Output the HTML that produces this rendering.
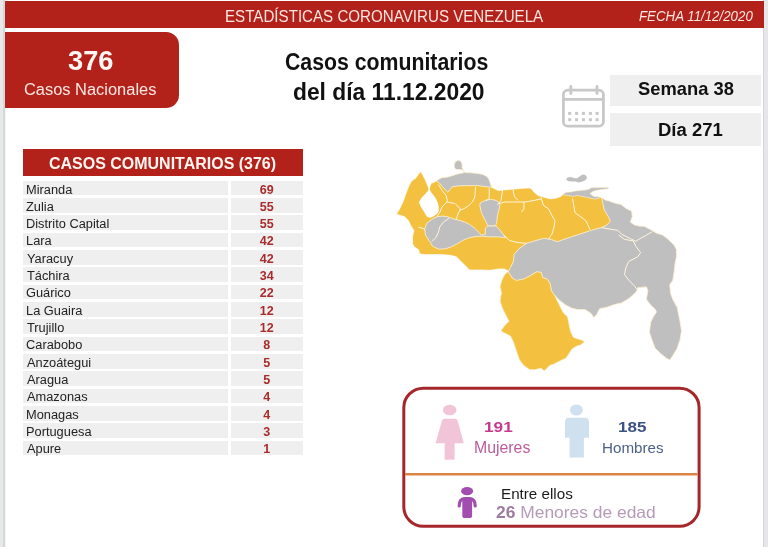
<!DOCTYPE html>
<html><head><meta charset="utf-8"><style>
*{margin:0;padding:0;box-sizing:border-box}
html,body{width:768px;height:547px;overflow:hidden;background:#fff}
body{position:relative;font-family:"Liberation Sans",sans-serif}
.t{position:absolute;white-space:nowrap;transform-origin:0 0}
.a{position:absolute}
.rw{position:absolute;left:22.8px;width:205px;height:14.5px;background:#efefef}
.rn{position:absolute;left:230.5px;width:72.2px;height:14.5px;background:#efefef}
</style></head><body><div id="w" style="position:absolute;left:0;top:0;width:768px;height:547px;overflow:hidden;background:#fff;filter:blur(0.35px)">
<div class="a" style="left:0;top:0;width:3px;height:547px;background:#e7e8ea"></div>
<div class="a" style="left:3px;top:0;width:1.6px;height:547px;background:#d6d7d9"></div>
<div class="a" style="left:4.6px;top:0;width:1.2px;height:547px;background:#f3f3f3"></div>
<div class="a" style="left:763px;top:0;width:1.4px;height:547px;background:#d4d5d7"></div>
<div class="a" style="left:764.4px;top:0;width:3.6px;height:547px;background:#e6e7e9"></div>
<div class="a" style="left:4.5px;top:1px;width:759px;height:27px;background:#b2221a"></div>
<div class="a" style="left:4.5px;top:32.3px;width:174.5px;height:76px;background:#b2221a;border-radius:0 13px 13px 0"></div>
<div class="a" style="left:22.8px;top:149.2px;width:279.8px;height:27.2px;background:#b2221a"></div>
<div class="a" style="left:610.2px;top:74.9px;width:151.1px;height:31.3px;background:#efefef"></div>
<div class="a" style="left:610.2px;top:113.2px;width:151.1px;height:32.5px;background:#efefef"></div>
<div class="rw" style="top:180.80px"></div><div class="rn" style="top:180.80px"></div><div class="rw" style="top:198.13px"></div><div class="rn" style="top:198.13px"></div><div class="rw" style="top:215.46px"></div><div class="rn" style="top:215.46px"></div><div class="rw" style="top:232.79px"></div><div class="rn" style="top:232.79px"></div><div class="rw" style="top:250.12px"></div><div class="rn" style="top:250.12px"></div><div class="rw" style="top:267.45px"></div><div class="rn" style="top:267.45px"></div><div class="rw" style="top:284.78px"></div><div class="rn" style="top:284.78px"></div><div class="rw" style="top:302.11px"></div><div class="rn" style="top:302.11px"></div><div class="rw" style="top:319.44px"></div><div class="rn" style="top:319.44px"></div><div class="rw" style="top:336.77px"></div><div class="rn" style="top:336.77px"></div><div class="rw" style="top:354.10px"></div><div class="rn" style="top:354.10px"></div><div class="rw" style="top:371.43px"></div><div class="rn" style="top:371.43px"></div><div class="rw" style="top:388.76px"></div><div class="rn" style="top:388.76px"></div><div class="rw" style="top:406.09px"></div><div class="rn" style="top:406.09px"></div><div class="rw" style="top:423.42px"></div><div class="rn" style="top:423.42px"></div><div class="rw" style="top:440.75px"></div><div class="rn" style="top:440.75px"></div>
<svg class="a" style="left:0;top:0" width="768" height="547" viewBox="0 0 768 547">
<g fill="none" stroke="#c8c8c8" stroke-width="2.8" stroke-linecap="round">
<rect x="563.4" y="90.2" width="40" height="36" rx="4.5"/>
<line x1="564" y1="99.4" x2="603" y2="99.4"/>
<line x1="570.8" y1="86.5" x2="570.8" y2="93.5"/>
<line x1="597" y1="86.5" x2="597" y2="93.5"/>
</g>
<g fill="#c8c8c8">
<rect x="568.2" y="111.9" width="3" height="3"/><rect x="575.1" y="111.9" width="3" height="3"/><rect x="581.9" y="111.9" width="3" height="3"/><rect x="588.9" y="111.9" width="3" height="3"/><rect x="595.6" y="111.9" width="3" height="3"/><rect x="568.2" y="118.2" width="3" height="3"/><rect x="575.1" y="118.2" width="3" height="3"/><rect x="581.9" y="118.2" width="3" height="3"/><rect x="588.9" y="118.2" width="3" height="3"/><rect x="595.6" y="118.2" width="3" height="3"/>
</g>

<polygon points="420.5,171.4 422.5,174.5 425.2,179.7 427.1,184.3 428.4,187.5 429.8,187.5 430.4,185.3 431.1,183.4 433.5,182.6 436.2,181.0 439.0,179.2 441.7,177.7 448.0,177.0 452.0,175.7 455.9,174.4 459.8,173.4 463.4,172.9 463.6,171.0 462.6,169.8 459.8,169.6 455.9,169.5 454.3,167.2 454.3,164.6 455.2,161.9 457.9,160.3 460.5,160.9 462.1,163.9 462.1,167.8 463.4,169.8 464.6,172.6 471.0,172.8 477.6,173.4 482.9,174.4 486.8,176.4 488.8,179.0 490.1,182.3 490.8,185.0 491.6,187.3 498.2,190.5 503.7,190.0 512.0,189.3 520.2,188.6 528.4,187.9 531.2,188.6 533.9,192.0 538.0,195.5 544.9,197.5 550.4,198.9 555.8,198.2 560.9,196.4 563.7,193.7 566.4,192.3 571.0,191.9 575.5,191.0 579.2,190.5 584.6,190.1 588.3,189.6 591.0,187.8 600.1,187.6 608.3,187.6 608.3,188.8 601.0,189.6 595.6,190.5 591.9,191.9 590.1,193.7 593.8,196.4 598.7,196.8 601.5,197.4 605.6,200.2 609.3,201.0 613.8,202.8 617.5,203.7 620.7,204.3 626.2,208.4 631.6,211.2 632.3,216.6 630.3,222.1 634.4,224.9 639.9,226.2 644.0,226.2 649.5,229.0 656.3,233.1 662.5,235.0 667.3,238.6 669.8,240.9 674.2,245.2 676.4,249.6 676.4,256.9 675.0,264.3 674.2,271.6 672.8,280.3 669.8,284.7 670.6,293.5 672.8,299.4 677.2,307.3 678.6,314.6 680.1,321.9 681.5,330.7 680.1,339.5 677.2,348.3 672.8,355.6 669.8,360.0 666.9,358.5 661.1,354.1 655.2,348.3 652.3,341.0 649.4,332.2 650.8,321.9 653.8,316.1 656.5,312.0 655.0,309.0 650.8,305.2 646.4,299.4 647.9,290.6 646.4,286.9 637.7,287.7 636.2,292.0 628.9,298.5 621.6,302.9 614.3,304.6 606.9,307.3 599.6,308.8 596.7,314.6 593.8,317.6 590.9,313.2 585.1,309.6 577.8,309.6 571.9,308.2 566.1,305.2 560.2,300.9 554.4,295.0 557.3,300.9 560.2,306.7 563.1,312.6 567.5,316.9 569.0,324.3 570.5,331.6 573.4,337.4 577.8,338.9 582.2,340.3 584.4,341.8 580.7,344.7 576.3,346.2 571.9,349.1 569.0,353.5 566.1,357.9 560.2,360.8 554.4,363.8 550.0,365.2 547.1,368.1 544.1,371.1 541.2,368.1 535.3,369.6 529.5,369.6 523.6,365.2 519.3,359.4 516.3,350.6 513.4,341.8 510.5,336.0 504.6,333.0 501.0,330.8 504.6,325.7 509.0,321.3 506.1,315.5 502.4,308.2 500.2,300.9 501.0,295.0 501.7,293.8 500.2,286.4 501.7,280.6 504.6,274.7 508.3,271.0 504.6,268.9 498.8,268.9 490.0,270.3 482.8,270.0 475.5,270.0 469.6,270.0 465.2,265.6 460.8,261.2 456.4,256.8 450.6,255.3 441.8,254.5 433.0,254.5 424.3,254.6 419.9,253.9 418.4,249.5 414.0,246.6 412.6,243.6 412.6,236.3 414.0,230.5 411.1,226.1 408.2,220.2 404.6,216.7 400.5,215.4 396.4,214.0 399.1,209.9 403.2,201.6 406.0,193.4 408.7,186.5 411.5,181.1 415.6,178.3" fill="#f3c13f" stroke="#fff" stroke-width="0.6"/>
<polygon points="436.2,181.0 439.0,179.2 441.7,177.7 448.0,177.0 452.0,175.7 455.9,174.4 459.8,173.4 463.4,172.9 463.6,171.0 462.6,169.8 459.8,169.6 455.9,169.5 454.3,167.2 454.3,164.6 455.2,161.9 457.9,160.3 460.5,160.9 462.1,163.9 462.1,167.8 463.4,169.8 464.6,172.6 471.0,172.8 477.6,173.4 482.9,174.4 486.8,176.4 488.8,179.0 490.1,182.3 490.8,185.0 491.6,187.3 487.5,186.9 482.9,186.3 477.6,185.6 467.7,185.6 457.9,185.9 452.0,186.9 450.0,189.3 447.8,192.2 446.1,190.6 442.3,186.5 439.0,182.6" fill="#bfbfbf" stroke="#fff4d8" stroke-width="0.8"/>
<polygon points="424.8,229.1 426.7,223.2 431.9,219.3 437.1,216.7 442.3,216.1 447.6,216.7 452.8,218.7 458.0,220.0 464.5,221.9 469.7,224.5 474.9,228.4 478.8,232.3 481.4,235.0 485.3,234.3 485.3,228.4 487.9,225.8 495.7,225.8 499.6,229.7 503.5,235.0 506.1,237.6 498.3,236.9 490.5,236.9 482.7,236.3 477.5,236.3 469.7,237.6 463.2,240.2 456.7,244.1 451.5,246.7 446.3,248.6 439.7,249.3 434.5,247.3 431.9,245.4 430.6,242.8 428.0,238.9 425.4,234.9" fill="#bfbfbf" stroke="#fff4d8" stroke-width="0.8"/>
<polygon points="480.1,203.0 485.9,200.0 491.8,199.4 496.6,200.6 500.2,203.5 499.0,209.5 497.5,215.4 496.6,222.6 495.7,225.8 487.9,225.8 486.0,221.9 484.0,218.0 481.4,212.8 479.9,205.9" fill="#bfbfbf" stroke="#fff4d8" stroke-width="0.8"/>
<polygon points="563.7,193.7 566.4,192.3 571.0,191.9 575.5,191.0 579.2,190.5 584.6,190.1 588.3,189.6 591.0,187.8 600.1,187.6 608.3,187.6 608.3,188.8 601.0,189.6 595.6,190.5 591.9,191.9 590.1,193.7 593.8,196.4 598.7,196.8 600.5,197.6 594.7,199.2 591.0,198.3 586.5,197.3 581.9,196.4 577.3,195.5 573.7,196.4 568.2,195.5 563.7,195.0" fill="#bfbfbf" stroke="#fff4d8" stroke-width="0.6"/>
<polygon points="601.5,197.4 605.6,200.2 609.3,201.0 613.8,202.8 617.5,203.7 620.7,204.3 626.2,208.4 631.6,211.2 632.3,216.6 630.3,222.1 634.4,224.9 639.9,226.2 644.0,226.2 649.5,229.0 656.3,233.1 662.5,235.0 667.3,238.6 669.8,240.9 674.2,245.2 676.4,249.6 676.4,256.9 675.0,264.3 674.2,271.6 672.8,280.3 669.8,284.7 670.6,293.5 672.8,299.4 677.2,307.3 678.6,314.6 680.1,321.9 681.5,330.7 680.1,339.5 677.2,348.3 672.8,355.6 669.8,360.0 666.9,358.5 661.1,354.1 655.2,348.3 652.3,341.0 649.4,332.2 650.8,321.9 653.8,316.1 656.5,312.0 655.0,309.0 650.8,305.2 646.4,299.4 647.9,290.6 646.4,286.9 637.7,287.7 636.2,292.0 628.9,298.5 621.6,302.9 614.3,304.6 606.9,307.3 599.6,308.8 596.7,314.6 593.8,317.6 590.9,313.2 585.1,309.6 577.8,309.6 571.9,308.2 566.1,305.2 560.2,300.9 554.4,295.0 551.4,290.8 550.0,283.5 547.1,279.1 542.7,277.7 541.2,272.5 536.8,271.8 529.5,276.2 523.6,279.1 516.3,280.6 511.9,277.7 508.3,271.8 510.5,267.4 513.4,261.6 514.1,254.3 519.3,248.4 526.6,243.3 533.9,241.1 544.1,238.2 551.4,239.6 557.3,241.8 563.1,239.6 571.9,236.7 580.7,233.8 589.5,230.9 596.0,229.0 601.5,227.6 607.0,224.9 610.4,221.4 608.3,216.6 604.2,209.8 602.8,203.0" fill="#bfbfbf" stroke="#fff4d8" stroke-width="0.8"/>
<polygon points="508.3,271.8 511.9,277.7 516.3,280.6 523.6,279.1 529.5,276.2 536.8,271.8 541.2,272.5 542.7,277.7 547.1,279.1 550.0,283.5 551.4,290.8 554.4,295.0 557.3,300.9 560.2,306.7 563.1,312.6 567.5,316.9 569.0,324.3 570.5,331.6 573.4,337.4 577.8,338.9 582.2,340.3 584.4,341.8 580.7,344.7 576.3,346.2 571.9,349.1 569.0,353.5 566.1,357.9 560.2,360.8 554.4,363.8 550.0,365.2 547.1,368.1 544.1,371.1 541.2,368.1 535.3,369.6 529.5,369.6 523.6,365.2 519.3,359.4 516.3,350.6 513.4,341.8 510.5,336.0 504.6,333.0 501.0,330.8 504.6,325.7 509.0,321.3 506.1,315.5 502.4,308.2 500.2,300.9 501.0,295.0 501.7,293.8 500.2,286.4 501.7,280.6 504.6,274.7" fill="#f3c13f" stroke="#fff4d8" stroke-width="0.6"/>
<polygon points="566.0,179.5 567.5,177.5 570.5,177.0 574.0,178.0 576.5,178.5 579.0,177.0 581.5,175.0 584.0,174.5 586.5,176.0 586.8,178.5 585.0,180.5 581.5,181.8 578.5,182.4 575.5,181.5 572.0,181.5 568.5,181.3" fill="#bfbfbf"/>
<polygon points="428.4,186.5 428.4,190.5 426.5,192.5 424.7,194.5 421.4,198.1 419.0,202.2 420.6,206.3 423.1,210.4 425.6,214.5 427.2,217.0 430.5,217.8 433.8,216.2 437.1,213.7 438.7,211.2 438.7,207.1 437.9,203.0 436.2,198.9 433.8,195.6 431.3,192.5 429.9,190.0 429.9,186.5" fill="#fff"/>
<polyline points="438.5,184.5 442.3,190.9 446.1,195.3 447.2,200.0 447.0,202.0 442.0,207.0 440.0,212.0 437.0,216.5" fill="none" stroke="#fff6e0" stroke-width="1"/><polyline points="447.0,202.0 455.0,203.5 460.5,209.0 458.0,214.0 456.0,219.5" fill="none" stroke="#fff6e0" stroke-width="1"/><polyline points="475.5,187.0 474.9,197.0 472.3,202.0 468.9,205.4 463.9,208.8 459.0,210.5" fill="none" stroke="#fff6e0" stroke-width="1"/><polyline points="489.2,188.5 489.2,198.6 486.0,201.0" fill="none" stroke="#fff6e0" stroke-width="1"/><polyline points="502.5,190.3 501.1,200.3 497.7,204.5" fill="none" stroke="#fff6e0" stroke-width="1"/><polyline points="512.9,189.5 514.6,196.9 518.0,200.3" fill="none" stroke="#fff6e0" stroke-width="1"/><polyline points="497.7,204.0 504.5,202.0 514.6,202.0 524.8,202.0 535.0,200.3 541.7,198.6" fill="none" stroke="#fff6e0" stroke-width="1"/><polyline points="524.0,202.0 523.9,208.8 521.4,212.2" fill="none" stroke="#fff6e0" stroke-width="1"/><polyline points="541.0,197.5 543.4,205.4 548.5,208.8 551.9,215.5 555.0,220.6 554.0,227.4 551.9,234.2 548.5,239.2" fill="none" stroke="#fff6e0" stroke-width="1"/><polyline points="572.5,198.5 575.0,212.6 586.0,220.8 590.0,229.5" fill="none" stroke="#fff6e0" stroke-width="1"/><polyline points="503.5,235.0 509.5,240.5 518.0,242.6 526.6,243.3" fill="none" stroke="#fff6e0" stroke-width="1"/><polyline points="449.1,218.3 443.6,221.9 439.7,227.1 438.4,232.3 435.8,237.6 431.9,241.5" fill="none" stroke="#fff6e0" stroke-width="1"/><polyline points="418.5,227.0 424.8,229.1" fill="none" stroke="#fff6e0" stroke-width="1"/><polyline points="601.5,227.6 617.9,230.4 622.0,234.5 630.3,238.6 635.8,241.3 639.9,238.6 645.4,235.8 652.2,231.7" fill="none" stroke="#fff6e0" stroke-width="1"/><polyline points="618.6,235.0 624.5,239.4 633.3,240.9 636.2,246.7 640.6,252.6 637.7,256.9 628.9,261.3 626.0,267.2 624.5,274.5 628.9,280.3 634.7,286.2 636.5,289.0" fill="none" stroke="#fff6e0" stroke-width="1"/>
<rect x="403.8" y="388.2" width="295.3" height="138.1" rx="19.5" fill="none" stroke="#a5272a" stroke-width="3"/>
<line x1="405" y1="474.3" x2="697.6" y2="474.3" stroke="#dc8443" stroke-width="2.6"/>
<g fill="#f2c4d8">
<ellipse cx="449.7" cy="410" rx="6.8" ry="5.2"/>
<path d="M444.6,418.7 L455,418.7 Q457,418.7 457.6,420.5 L463.8,443.3 L435.6,443.3 L442,420.5 Q442.6,418.7 444.6,418.7Z"/>
<rect x="444.6" y="442" width="10" height="17.7"/>
</g>
<g fill="#cfe0ee">
<ellipse cx="576.4" cy="410" rx="6.4" ry="5.5"/>
<path d="M569,417.8 L584.8,417.8 Q589,417.8 589,422 L589,437.8 L565,437.8 L565,422 Q565,417.8 569,417.8Z"/>
<rect x="569.6" y="437" width="14.3" height="20.5"/>
</g>
<g fill="#a24eb0">
<ellipse cx="467.1" cy="491.2" rx="6" ry="4.1"/>
<rect x="462.3" y="497.3" width="9.8" height="20.8" rx="2.6"/>
</g>
<path d="M459.2,506 Q459.2,499 464.5,498.6 L469.8,498.6 Q475.2,499 475.2,506" fill="none" stroke="#a24eb0" stroke-width="3.2" stroke-linecap="round"/>
</svg>
<div class="t" style="left:224.55px;top:7px;font-size:16.60px;font-weight:normal;font-style:normal;color:#fbe6e0;transform:scaleX(0.9121);">ESTADÍSTICAS CORONAVIRUS VENEZUELA</div><div class="t" style="left:638.90px;top:9px;font-size:13.80px;font-weight:normal;font-style:italic;color:#fbe6e0;transform:scaleX(0.9633);">FECHA 11/12/2020</div><div class="t" style="left:67.59px;top:44px;font-size:28.50px;font-weight:bold;font-style:normal;color:#fff8f4;transform:scaleX(0.9546);">376</div><div class="t" style="left:23.78px;top:81px;font-size:16.00px;font-weight:normal;font-style:normal;color:#fbe8e2;transform:scaleX(1.0266);">Casos Nacionales</div><div class="t" style="left:284.65px;top:49px;font-size:23.00px;font-weight:bold;font-style:normal;color:#111;transform:scaleX(0.9244);">Casos comunitarios</div><div class="t" style="left:293.39px;top:79px;font-size:23.00px;font-weight:bold;font-style:normal;color:#111;transform:scaleX(0.9919);">del día 11.12.2020</div><div class="t" style="left:638.05px;top:78px;font-size:18.50px;font-weight:bold;font-style:normal;color:#111;transform:scaleX(0.9921);">Semana 38</div><div class="t" style="left:657.65px;top:119px;font-size:18.90px;font-weight:bold;font-style:normal;color:#111;transform:scaleX(0.9782);">Día 271</div><div class="t" style="left:49.26px;top:154px;font-size:16.50px;font-weight:bold;font-style:normal;color:#fff6f2;transform:scaleX(0.9687);">CASOS COMUNITARIOS (376)</div><div class="t" style="left:25.84px;top:183px;font-size:12.50px;font-weight:normal;font-style:normal;color:#222;transform:scaleX(1.0250);">Miranda</div><div class="t" style="left:246.7px;width:40px;text-align:center;top:183px;font-size:12.5px;font-weight:bold;color:#a82c2c">69</div><div class="t" style="left:26.48px;top:200px;font-size:12.50px;font-weight:normal;font-style:normal;color:#222;transform:scaleX(1.0250);">Zulia</div><div class="t" style="left:246.7px;width:40px;text-align:center;top:200px;font-size:12.5px;font-weight:bold;color:#a82c2c">55</div><div class="t" style="left:25.84px;top:217px;font-size:12.50px;font-weight:normal;font-style:normal;color:#222;transform:scaleX(1.0250);">Distrito Capital</div><div class="t" style="left:246.7px;width:40px;text-align:center;top:217px;font-size:12.5px;font-weight:bold;color:#a82c2c">55</div><div class="t" style="left:25.84px;top:234px;font-size:12.50px;font-weight:normal;font-style:normal;color:#222;transform:scaleX(1.0250);">Lara</div><div class="t" style="left:246.7px;width:40px;text-align:center;top:234px;font-size:12.5px;font-weight:bold;color:#a82c2c">42</div><div class="t" style="left:26.61px;top:252px;font-size:12.50px;font-weight:normal;font-style:normal;color:#222;transform:scaleX(1.0250);">Yaracuy</div><div class="t" style="left:246.7px;width:40px;text-align:center;top:252px;font-size:12.5px;font-weight:bold;color:#a82c2c">42</div><div class="t" style="left:26.61px;top:269px;font-size:12.50px;font-weight:normal;font-style:normal;color:#222;transform:scaleX(1.0250);">Táchira</div><div class="t" style="left:246.7px;width:40px;text-align:center;top:269px;font-size:12.5px;font-weight:bold;color:#a82c2c">34</div><div class="t" style="left:26.26px;top:286px;font-size:12.50px;font-weight:normal;font-style:normal;color:#222;transform:scaleX(1.0250);">Guárico</div><div class="t" style="left:246.7px;width:40px;text-align:center;top:286px;font-size:12.5px;font-weight:bold;color:#a82c2c">22</div><div class="t" style="left:25.84px;top:304px;font-size:12.50px;font-weight:normal;font-style:normal;color:#222;transform:scaleX(1.0250);">La Guaira</div><div class="t" style="left:246.7px;width:40px;text-align:center;top:304px;font-size:12.5px;font-weight:bold;color:#a82c2c">12</div><div class="t" style="left:26.61px;top:321px;font-size:12.50px;font-weight:normal;font-style:normal;color:#222;transform:scaleX(1.0250);">Trujillo</div><div class="t" style="left:246.7px;width:40px;text-align:center;top:321px;font-size:12.5px;font-weight:bold;color:#a82c2c">12</div><div class="t" style="left:26.26px;top:338px;font-size:12.50px;font-weight:normal;font-style:normal;color:#222;transform:scaleX(1.0250);">Carabobo</div><div class="t" style="left:246.7px;width:40px;text-align:center;top:338px;font-size:12.5px;font-weight:bold;color:#a82c2c">8</div><div class="t" style="left:26.87px;top:356px;font-size:12.50px;font-weight:normal;font-style:normal;color:#222;transform:scaleX(1.0250);">Anzoátegui</div><div class="t" style="left:246.7px;width:40px;text-align:center;top:356px;font-size:12.5px;font-weight:bold;color:#a82c2c">5</div><div class="t" style="left:26.87px;top:373px;font-size:12.50px;font-weight:normal;font-style:normal;color:#222;transform:scaleX(1.0250);">Aragua</div><div class="t" style="left:246.7px;width:40px;text-align:center;top:373px;font-size:12.5px;font-weight:bold;color:#a82c2c">5</div><div class="t" style="left:26.87px;top:390px;font-size:12.50px;font-weight:normal;font-style:normal;color:#222;transform:scaleX(1.0250);">Amazonas</div><div class="t" style="left:246.7px;width:40px;text-align:center;top:390px;font-size:12.5px;font-weight:bold;color:#a82c2c">4</div><div class="t" style="left:25.84px;top:408px;font-size:12.50px;font-weight:normal;font-style:normal;color:#222;transform:scaleX(1.0250);">Monagas</div><div class="t" style="left:246.7px;width:40px;text-align:center;top:408px;font-size:12.5px;font-weight:bold;color:#a82c2c">4</div><div class="t" style="left:25.84px;top:425px;font-size:12.50px;font-weight:normal;font-style:normal;color:#222;transform:scaleX(1.0250);">Portuguesa</div><div class="t" style="left:246.7px;width:40px;text-align:center;top:425px;font-size:12.5px;font-weight:bold;color:#a82c2c">3</div><div class="t" style="left:26.87px;top:442px;font-size:12.50px;font-weight:normal;font-style:normal;color:#222;transform:scaleX(1.0250);">Apure</div><div class="t" style="left:246.7px;width:40px;text-align:center;top:442px;font-size:12.5px;font-weight:bold;color:#a82c2c">1</div><div class="t" style="left:483.52px;top:418px;font-size:15.10px;font-weight:bold;font-style:normal;color:#c83a8c;transform:scaleX(1.1419);">191</div><div class="t" style="left:474.39px;top:439px;font-size:15.80px;font-weight:normal;font-style:normal;color:#bd5c9c;transform:scaleX(1.0027);">Mujeres</div><div class="t" style="left:618.03px;top:418px;font-size:15.40px;font-weight:bold;font-style:normal;color:#3b5384;transform:scaleX(1.1114);">185</div><div class="t" style="left:602.05px;top:439px;font-size:15.50px;font-weight:normal;font-style:normal;color:#4f6189;transform:scaleX(0.9808);">Hombres</div><div class="t" style="left:501.35px;top:486px;font-size:14.00px;font-weight:normal;font-style:normal;color:#1a1a1a;transform:scaleX(1.0852);">Entre ellos</div><div class="t" style="left:496.23px;top:503px;font-size:16.50px;font-weight:normal;font-style:normal;color:#b59bb8;transform:scaleX(1.0549);"><b style="color:#9d7aa0">26</b> Menores de edad</div>
</div></body></html>
